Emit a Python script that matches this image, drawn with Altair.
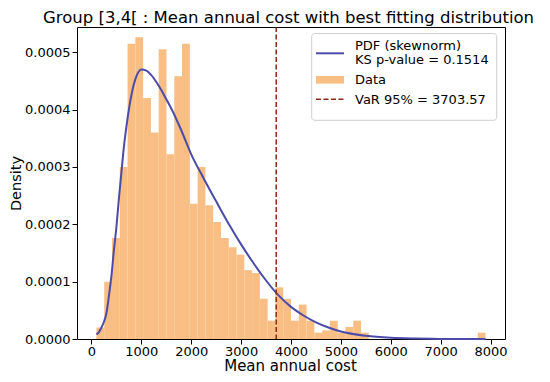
import altair as alt
import numpy as np
import pandas as pd

# ---- data ----
title_text = "Group [3,4[ : Mean annual cost with best fitting distribution"
bin_lo, bin_hi, n_bins = 100.0, 7900.0, 50
# histogram densities (x 1e-4), 50 bins from 100 to 7900
density_e4 = [0.2, 1.0, 1.76, 3.0, 5.15, 5.26, 4.2, 3.6, 5.05, 3.22,
              4.58, 5.15, 2.36, 3.0, 2.33, 2.04, 1.76, 1.6, 1.47, 1.2,
              1.15, 0.7, 0.32, 0.9, 0.7, 0.32, 0.6, 0.32, 0.11, 0.15,
              0.32, 0.11, 0.21, 0.32, 0.11, 0, 0, 0, 0, 0,
              0, 0, 0, 0, 0, 0, 0, 0, 0, 0.11]
# fitted skewnorm pdf (x 1e-4)
pdf_x = [100, 150, 200, 250, 300, 350, 400, 450, 500, 550, 600, 650, 700, 800, 900,
         1000, 1100, 1200, 1300, 1400, 1500, 1600, 1800, 2000, 2250, 2500, 2750,
         3000, 3250, 3500, 3750, 4000, 4250, 4500, 4750, 5000, 5500, 6000, 6500,
         7000, 7500, 7900]
pdf_e4 = [0.08, 0.12, 0.2, 0.3, 0.45, 0.75, 1.1, 1.55, 1.95, 2.45, 2.9, 3.35, 3.7, 4.25, 4.58,
          4.7, 4.68, 4.6, 4.48, 4.34, 4.18, 4.02, 3.64, 3.22, 2.8, 2.4, 2.01,
          1.65, 1.32, 1.02, 0.76, 0.56, 0.41, 0.29, 0.2, 0.13, 0.055, 0.02, 0.007,
          0.002, 0.0005, 0.0002]
var95 = 3703.57
ks_p = 0.1514
x_ticks = [0, 1000, 2000, 3000, 4000, 5000, 6000, 7000, 8000]
y_ticks = [0.0, 0.0001, 0.0002, 0.0003, 0.0004, 0.0005]
legend_labels = ["PDF (skewnorm)", f"KS p-value = {ks_p}", "Data", f"VaR 95% = {var95}"]

edges = np.linspace(bin_lo, bin_hi, n_bins + 1)
hist = pd.DataFrame({"lo": edges[:-1], "hi": edges[1:],
                     "density": np.array(density_e4) * 1e-4})
pdf = pd.DataFrame({"x": pdf_x, "density": np.array(pdf_e4) * 1e-4})
var_df = pd.DataFrame({"x": [var95]})
one = pd.DataFrame({"a": [0]})

W, H = 428, 312
FONT = "DejaVu Sans"
C_BAR = "#F8BE84"
C_PDF = "#4B4BAA"
C_VAR = "#8B2A10"

xscale = alt.Scale(domain=[-290, 8290], nice=False, zero=False)
yscale = alt.Scale(domain=[0, 0.000544], nice=False, zero=True)
xaxis = alt.Axis(values=x_ticks, format="d", title="Mean annual cost",
                 titleX=W / 2 - 1, titleY=31.5, titleBaseline="alphabetic",
                 titleAlign="center", titleAngle=0, titleFontSize=15, labelPadding=1)
yaxis = alt.Axis(values=y_ticks, format=".4f", title="Density",
                 titleX=-57, titleY=H / 2, titleAngle=-90, titleFontSize=14.5,
                 titleBaseline="alphabetic", titleAlign="center", labelPadding=2)


def X(field):
    return alt.X(field, type="quantitative", scale=xscale, axis=xaxis)


def Y(field):
    return alt.Y(field, type="quantitative", scale=yscale, axis=yaxis)


bars = alt.Chart(hist).mark_rect(color=C_BAR).encode(
    x=X("lo"), x2="hi", y=Y("density"), y2=alt.datum(0)
)
curve = alt.Chart(pdf).mark_line(color=C_PDF, strokeWidth=2, interpolate="monotone").encode(
    x=X("x"), y=Y("density")
)
var_rule = alt.Chart(var_df).mark_rule(color=C_VAR, strokeWidth=1.5, strokeDash=[5, 2.5]).encode(
    x=X("x")
)

# chart title as a text mark above the plot
title_mark = alt.Chart(one).mark_text(align="center", baseline="alphabetic", font=FONT,
                                      fontSize=16.5, color="black").encode(
    x=alt.value(211.5), y=alt.value(-4.5), text=alt.value(title_text))

# legend (matplotlib style box, upper right)
lg_box = alt.Chart(one).mark_rect(fill="white", fillOpacity=0.85, stroke="#cfcfcf",
                                  strokeWidth=1, cornerRadius=3).encode(
    x=alt.value(234.7), x2=alt.value(419.7), y=alt.value(6.6), y2=alt.value(93.3))
lg_line = alt.Chart(one).mark_rule(color=C_PDF, strokeWidth=2).encode(
    x=alt.value(239), x2=alt.value(267), y=alt.value(26.3))
lg_patch = alt.Chart(one).mark_rect(color=C_BAR).encode(
    x=alt.value(239), x2=alt.value(267), y=alt.value(49), y2=alt.value(56.6))
lg_dash = alt.Chart(one).mark_rule(color=C_VAR, strokeWidth=1.5, strokeDash=[5, 2.5]).encode(
    x=alt.value(239), x2=alt.value(267), y=alt.value(72.3))
lg_texts = []
for lab, yb in zip(legend_labels, [23, 37.3, 56.6, 76.6]):
    lg_texts.append(alt.Chart(one).mark_text(align="left", baseline="alphabetic", font=FONT,
                                             fontSize=13, color="black").encode(
        x=alt.value(278), y=alt.value(yb), text=alt.value(lab)))

chart = alt.layer(bars, curve, var_rule, title_mark, lg_box, lg_line, lg_patch, lg_dash,
                  *lg_texts).properties(
    width=W, height=H,
    padding={"left": 69, "top": 19, "right": 37, "bottom": 35},
    autosize=alt.AutoSizeParams(type="none"),
).configure_view(stroke="black", strokeWidth=1).configure_axis(
    grid=False, domain=False, labelFont=FONT, titleFont=FONT, labelFontSize=13,
    titleFontWeight="normal", labelColor="black", titleColor="black",
    tickColor="black", tickSize=5
)

chart.save("out.html", embed_options={"renderer": "svg", "actions": False})
